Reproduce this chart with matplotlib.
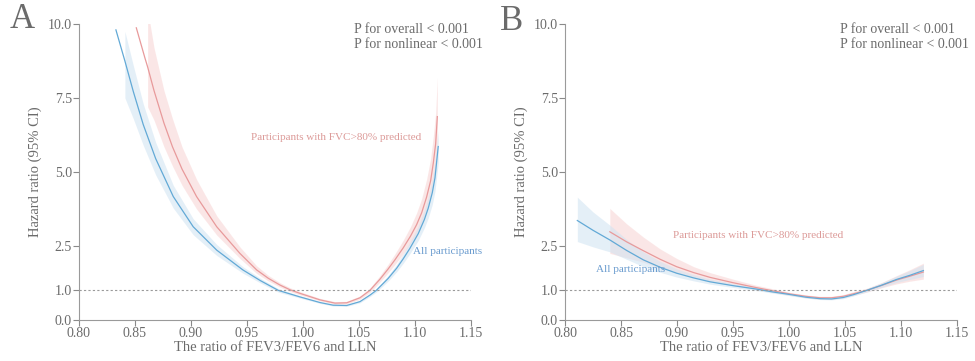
import numpy as np
import matplotlib
matplotlib.use('Agg')
import matplotlib.pyplot as plt

plt.rcParams['font.family'] = ['Liberation Serif', 'DejaVu Serif']

color_text = '#6b6b6b'
color_blue = '#62a9d6'
color_red = '#e89a9b'
band_blue = '#cfe3f2'
band_red = '#f7cfcf'

nan = np.nan

# Panel A - all participants
a_all_x = [0.833, 0.841, 0.8485, 0.8574, 0.8685, 0.8842, 0.902, 0.923, 0.9464, 0.962, 0.978,
           0.9973, 1.0152, 1.027, 1.039, 1.0509, 1.0598, 1.0655, 1.076, 1.0837, 1.0896,
           1.0955, 1.103, 1.1085, 1.1119, 1.1155, 1.1179, 1.1208]
a_all_hr = [9.80, 8.75, 7.72, 6.60, 5.45, 4.17, 3.15, 2.36, 1.69, 1.33, 1.00,
            0.78, 0.59, 0.50, 0.49, 0.62, 0.84, 1.00, 1.40, 1.75, 2.07,
            2.42, 2.92, 3.40, 3.78, 4.30, 4.80, 5.86]
a_all_lo = [nan, 7.50, 6.80, 5.90, 4.90, 3.78, 2.88, 2.18, 1.58, 1.25, 0.94,
            0.74, 0.56, 0.47, 0.46, 0.58, 0.79, 0.94, 1.31, 1.63, 1.92,
            2.24, 2.69, 3.12, 3.45, 3.90, 4.35, 5.30]
a_all_hi = [nan, 9.75, 8.60, 7.30, 6.00, 4.55, 3.42, 2.55, 1.80, 1.41, 1.06,
            0.82, 0.62, 0.53, 0.52, 0.66, 0.89, 1.06, 1.50, 1.88, 2.24,
            2.63, 3.18, 3.72, 4.15, 4.74, 5.28, 6.40]

# Panel A - participants with FVC>80% predicted
a_fvc_x = [0.8512, 0.8589, 0.8613, 0.867, 0.8759, 0.8835, 0.892, 0.905, 0.923, 0.9437, 0.9587,
           0.969, 0.9795, 0.9885, 0.9973, 1.0152, 1.0286, 1.039, 1.0509, 1.0598, 1.0688,
           1.076, 1.0821, 1.0896, 1.096, 1.1015, 1.106, 1.1104, 1.114, 1.1164, 1.1185, 1.120]
a_fvc_hr = [9.87, 8.85, 8.55, 7.75, 6.65, 5.85, 5.10, 4.17, 3.15, 2.25, 1.69,
            1.41, 1.18, 1.02, 0.90, 0.68, 0.57, 0.58, 0.75, 1.00, 1.38,
            1.72, 2.03, 2.44, 2.83, 3.22, 3.62, 4.15, 4.70, 5.30, 5.95, 6.87]
a_fvc_lo = [nan, nan, 7.20, 6.75, 5.85, 5.20, 4.55, 3.75, 2.87, 2.08, 1.57,
            1.32, 1.11, 0.96, 0.85, 0.64, 0.53, 0.54, 0.70, 0.93, 1.28,
            1.59, 1.87, 2.24, 2.58, 2.92, 3.27, 3.73, 4.20, 4.70, 5.25, 6.00]
a_fvc_hi = [nan, nan, 10.5, 9.20, 7.75, 6.80, 5.85, 4.75, 3.52, 2.47, 1.83,
            1.51, 1.26, 1.09, 0.96, 0.73, 0.62, 0.63, 0.81, 1.08, 1.50,
            1.88, 2.23, 2.70, 3.15, 3.62, 4.10, 4.75, 5.45, 6.20, 7.00, 8.20]

# Panel B - all participants
b_all_x = [0.811, 0.825, 0.8402, 0.855, 0.870, 0.885, 0.8997, 0.915, 0.9295, 0.95, 0.97,
           0.985, 1.0009, 1.015, 1.0277, 1.038, 1.0485, 1.058, 1.0694, 1.083, 1.0961, 1.108, 1.12]
b_all_hr = [3.36, 3.03, 2.70, 2.35, 2.03, 1.78, 1.58, 1.42, 1.29, 1.16, 1.05,
            0.95, 0.86, 0.77, 0.72, 0.71, 0.76, 0.86, 1.00, 1.18, 1.37, 1.51, 1.67]
b_all_lo = [2.65, 2.47, 2.30, 2.05, 1.80, 1.61, 1.45, 1.32, 1.21, 1.10, 1.00,
            0.91, 0.82, 0.74, 0.69, 0.68, 0.72, 0.82, 0.95, 1.11, 1.27, 1.37, 1.47]
b_all_hi = [4.15, 3.65, 3.20, 2.72, 2.30, 1.98, 1.73, 1.53, 1.38, 1.23, 1.11,
            1.00, 0.90, 0.81, 0.76, 0.75, 0.80, 0.90, 1.06, 1.26, 1.48, 1.67, 1.88]

# Panel B - participants with FVC>80% predicted
b_fvc_x = [0.840, 0.855, 0.870, 0.885, 0.8997, 0.915, 0.9295, 0.95, 0.97, 0.985, 1.0009,
           1.015, 1.0277, 1.038, 1.0485, 1.058, 1.0694, 1.083, 1.0961, 1.108, 1.12]
b_fvc_hr = [2.98, 2.64, 2.34, 2.05, 1.80, 1.60, 1.44, 1.26, 1.10, 0.99, 0.88,
            0.80, 0.75, 0.75, 0.80, 0.89, 1.00, 1.17, 1.35, 1.48, 1.62]
b_fvc_lo = [2.25, 2.10, 1.95, 1.75, 1.58, 1.43, 1.31, 1.16, 1.03, 0.93, 0.83,
            0.75, 0.70, 0.70, 0.75, 0.83, 0.94, 1.09, 1.22, 1.31, 1.38]
b_fvc_hi = [3.77, 3.25, 2.80, 2.40, 2.08, 1.80, 1.60, 1.38, 1.18, 1.06, 0.93,
            0.85, 0.80, 0.80, 0.86, 0.96, 1.07, 1.27, 1.50, 1.70, 1.92]

x_ticks = [0.80, 0.85, 0.90, 0.95, 1.00, 1.05, 1.10, 1.15]
y_ticks = [0.0, 1.0, 2.5, 5.0, 7.5, 10.0]

fig = plt.figure(figsize=(9.75, 3.61), dpi=100)
ax_a = fig.add_axes([0.081, 0.1136, 0.402, 0.82])
ax_b = fig.add_axes([0.5795, 0.1136, 0.402, 0.82])

panels = [
    (ax_a, (a_all_x, a_all_hr, a_all_lo, a_all_hi), (a_fvc_x, a_fvc_hr, a_fvc_lo, a_fvc_hi),
     (0.9536, 6.18), (1.0982, 2.33)),
    (ax_b, (b_all_x, b_all_hr, b_all_lo, b_all_hi), (b_fvc_x, b_fvc_hr, b_fvc_lo, b_fvc_hi),
     (0.8964, 2.87), (0.8277, 1.69)),
]

for ax, s_all, s_fvc, fvc_pos, all_pos in panels:
    ax.fill_between(s_fvc[0], s_fvc[2], s_fvc[3], color=band_red, alpha=0.5, lw=0)
    ax.fill_between(s_all[0], s_all[2], s_all[3], color=band_blue, alpha=0.55, lw=0)
    ax.plot(s_fvc[0], s_fvc[1], color=color_red, lw=0.9)
    ax.plot(s_all[0], s_all[1], color=color_blue, lw=0.9)
    ax.axhline(1.0, color='#9a9a9a', lw=0.8, ls=(0, (2, 2)))

    ax.set_xlim(0.80, 1.15)
    ax.set_ylim(0.0, 10.0)
    ax.set_xticks(x_ticks)
    ax.set_xticklabels([f'{t:.2f}' for t in x_ticks])
    ax.set_yticks(y_ticks)
    ax.set_yticklabels([f'{t:.1f}' for t in y_ticks])
    ax.tick_params(colors='#8a8a8a', labelcolor=color_text, labelsize=10, length=4, width=0.8, pad=1)
    for side in ['top', 'right']:
        ax.spines[side].set_visible(False)
    for side in ['left', 'bottom']:
        ax.spines[side].set_color('#9a9a9a')
        ax.spines[side].set_linewidth(0.8)

    ax.set_xlabel('The ratio of FEV3/FEV6 and LLN', fontsize=10.5, color=color_text, labelpad=1)
    ax.set_ylabel('Hazard ratio (95% CI)', fontsize=10.5, color=color_text, labelpad=4)

    ax.text(fvc_pos[0], fvc_pos[1], 'Participants with FVC>80% predicted', fontsize=8,
            color='#dc9a98', va='center', ha='left')
    ax.text(all_pos[0], all_pos[1], 'All participants', fontsize=8,
            color='#6b9ccf', va='center', ha='left')
    ax.text(1.0455, 9.83, 'P for overall < 0.001', fontsize=10, color=color_text,
            va='center', ha='left', clip_on=False)
    ax.text(1.0455, 9.29, 'P for nonlinear < 0.001', fontsize=10, color=color_text,
            va='center', ha='left', clip_on=False)

fig.text(22 / 975, 1 - 20 / 361, 'A', fontsize=25, color=color_text, ha='center', va='center')
fig.text(512 / 975, 1 - 21 / 361, 'B', fontsize=25, color=color_text, ha='center', va='center')

fig.savefig('out.png', dpi=100)
